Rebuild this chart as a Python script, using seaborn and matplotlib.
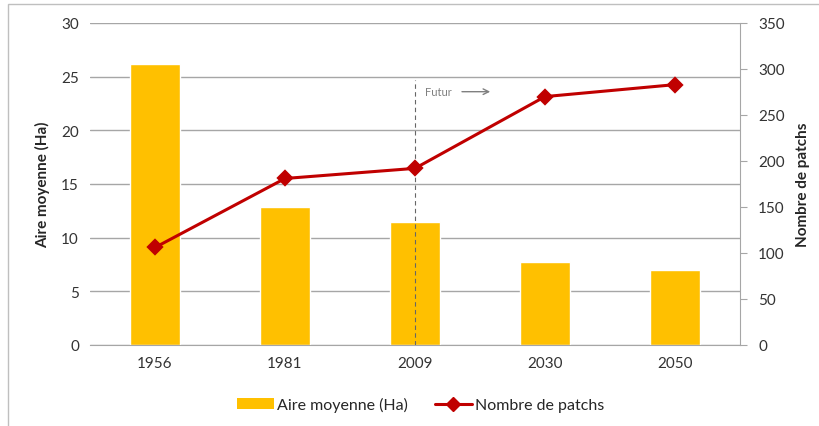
import numpy as np
import pandas as pd
import matplotlib.pyplot as plt
import seaborn as sns
from matplotlib.patches import Rectangle, Patch
from matplotlib.lines import Line2D

# data
annees = ["1956", "1981", "2009", "2030", "2050"]
aire_moyenne = [26.2, 12.9, 11.5, 7.7, 7.0]
nb_patchs = [106, 181, 192, 270, 283]

BAR_COL = "#FFC000"
LINE_COL = "#C00000"
GRID_COL = "#A6A6A6"

df = pd.DataFrame({"annee": annees, "aire": aire_moyenne, "patchs": nb_patchs})

sns.set_style("white")
plt.rcParams["font.family"] = ["Lato", "DejaVu Sans"]

fig = plt.figure(figsize=(8.2, 4.27), dpi=100)
ax = fig.add_axes([0.1098, 0.1897, 0.7926, 0.7541])

sns.barplot(data=df, x="annee", y="aire", color=BAR_COL, width=0.39,
            saturation=1, ax=ax, zorder=2)
ax.set_ylim(0, 30)
ax.set_yticks(range(0, 31, 5))
ax.set_xlim(-0.5, len(annees) - 0.5)
ax.yaxis.grid(True, color=GRID_COL, linewidth=1)
ax.set_axisbelow(True)
ax.set_xlabel("")
ax.set_ylabel("Aire moyenne (Ha)", fontsize=11, fontweight="bold", labelpad=8)
for s in ["top", "left", "right"]:
    ax.spines[s].set_visible(False)
ax.spines["bottom"].set_color(GRID_COL)
ax.tick_params(axis="both", length=0, labelsize=11, colors="#333333", pad=8)

ax2 = ax.twinx()
sns.pointplot(data=df, x="annee", y="patchs", color=LINE_COL, markers="D",
              markersize=7, linewidth=2.2, ax=ax2)
ax2.set_ylim(0, 350)
ax2.set_yticks(range(0, 351, 50))
ax2.set_xlim(-0.5, len(annees) - 0.5)
ax2.set_ylabel("Nombre de patchs", fontsize=11, fontweight="bold", labelpad=8)
for s in ["top", "left", "bottom"]:
    ax2.spines[s].set_visible(False)
ax2.spines["right"].set_color(GRID_COL)
ax2.tick_params(axis="y", length=5, labelsize=11, colors="#333333", pad=8)
ax2.tick_params(axis="y", color=GRID_COL)

# "Futur" separator at 2009
i_2009 = annees.index("2009")
ax.plot([i_2009, i_2009], [0, 24.7], ls=(0, (4, 3)), color="#666666", lw=0.8,
        zorder=3)
ax.annotate("", xy=(i_2009 + 0.6, 23.6), xytext=(i_2009 + 0.34, 23.6),
            arrowprops=dict(arrowstyle="->", color="#808080", lw=1))
ax.text(i_2009 + 0.08, 23.6, "Futur", fontsize=8, color="#808080",
        va="center", ha="left")

handles = [Patch(facecolor=BAR_COL, edgecolor="none"),
           Line2D([], [], color=LINE_COL, lw=2.2, marker="D", markersize=7)]
fig.legend(handles, ["Aire moyenne (Ha)", "Nombre de patchs"], loc="center",
           bbox_to_anchor=(0.513, 0.05), ncol=2, frameon=False, fontsize=11.5,
           handlelength=2.3, handleheight=0.6, columnspacing=1.7,
           handletextpad=0.2)

fig.patches.append(Rectangle((8 / 820, -0.01), 1.0, (427 - 5) / 427 + 0.01,
                             transform=fig.transFigure, fill=False,
                             edgecolor="#BFBFBF", lw=1))

fig.savefig("out.png", dpi=100)
